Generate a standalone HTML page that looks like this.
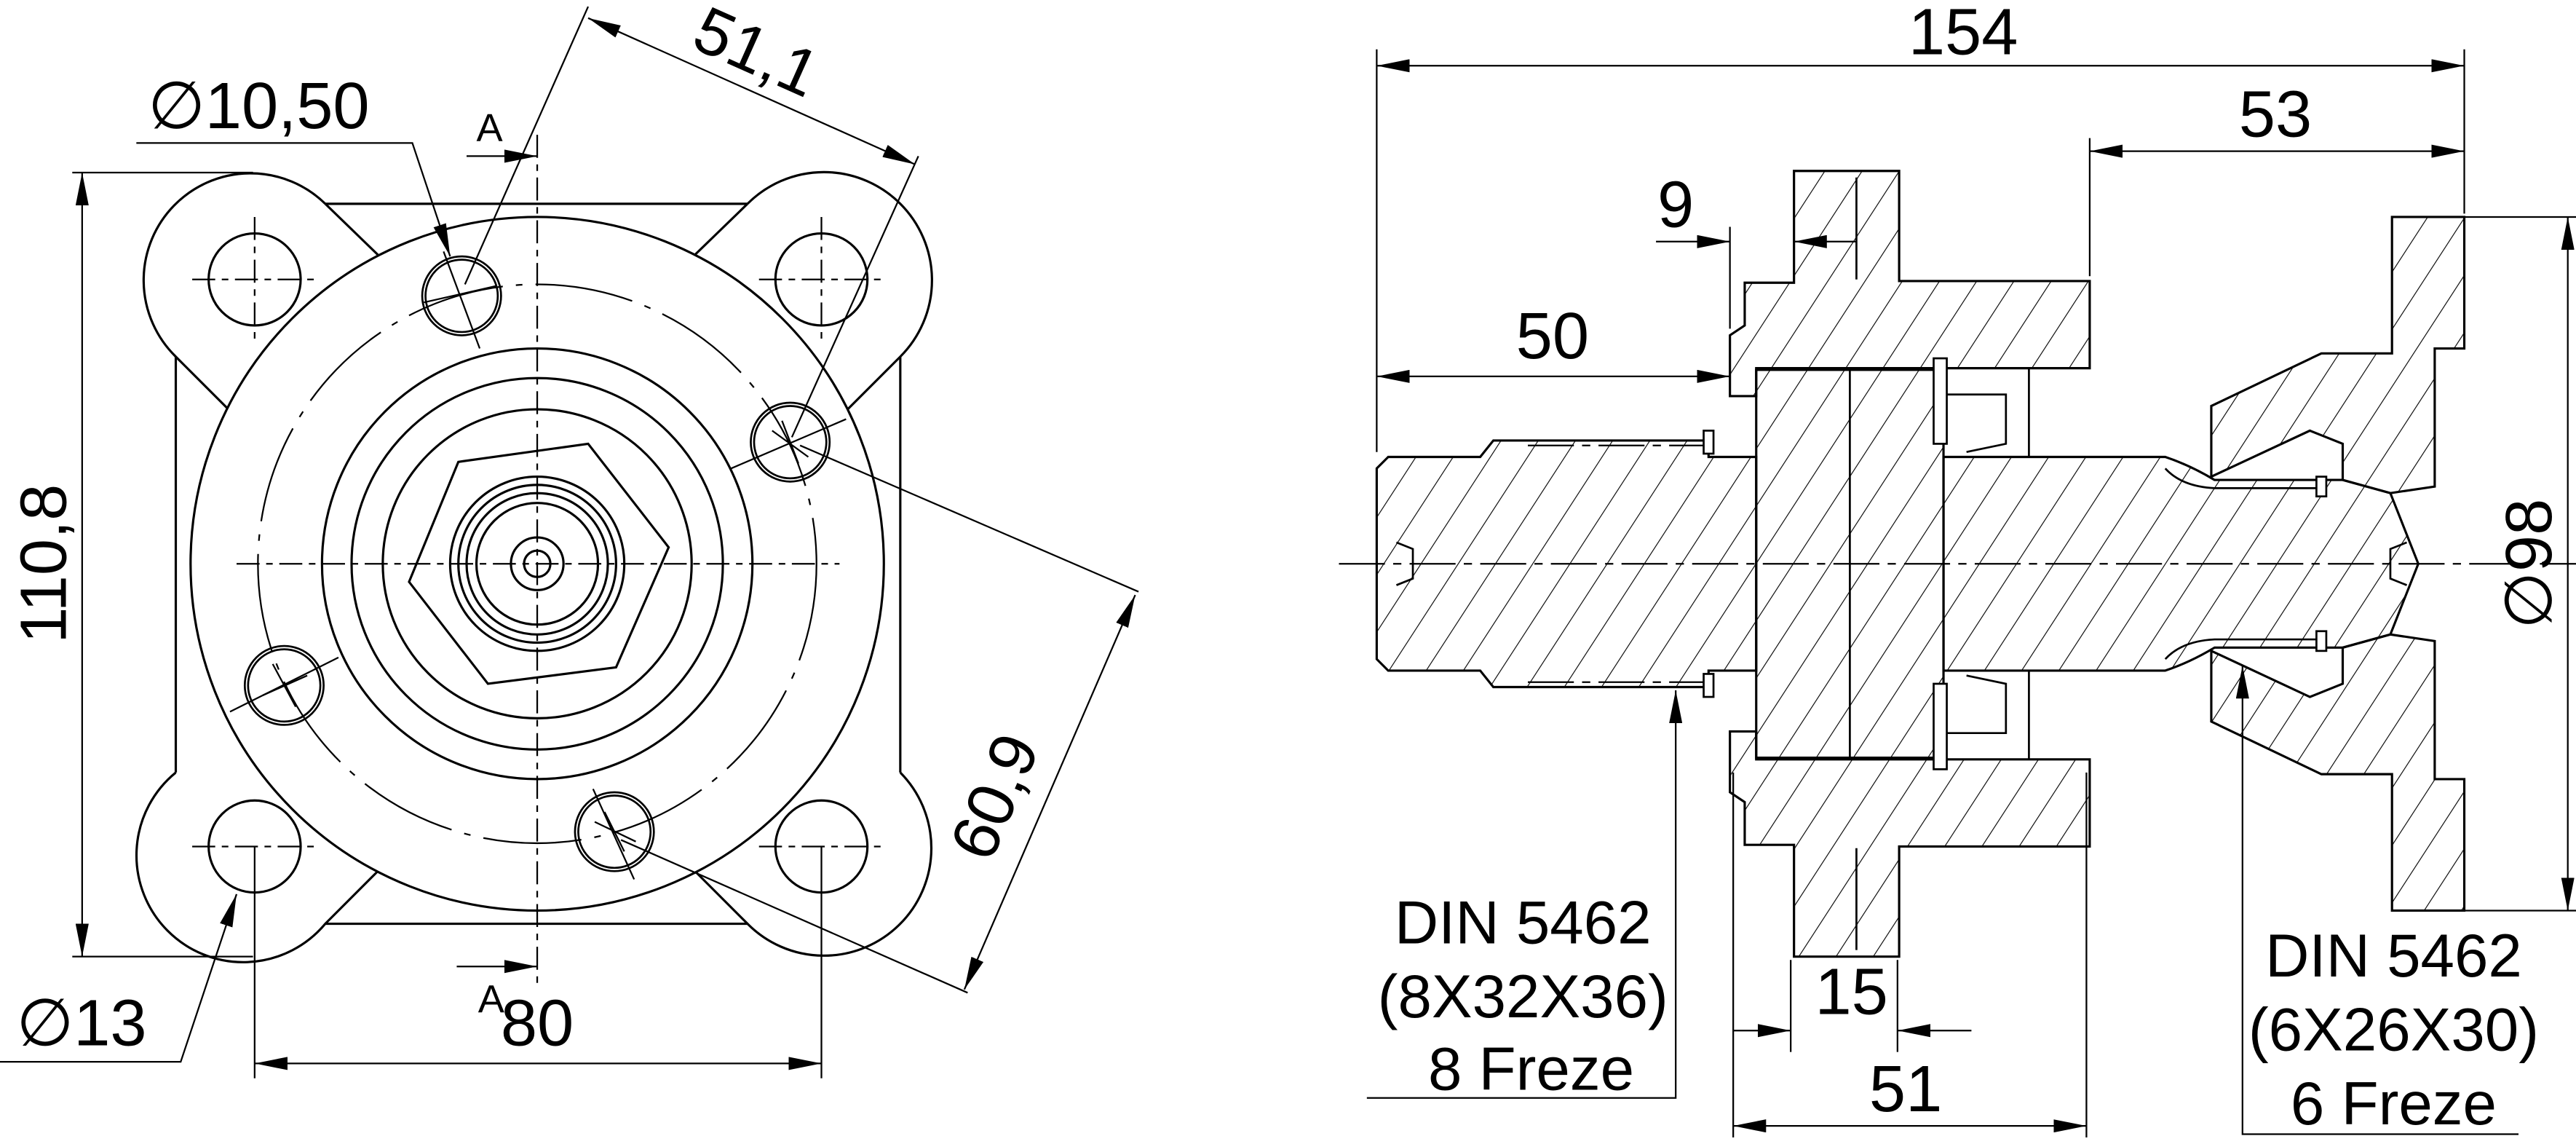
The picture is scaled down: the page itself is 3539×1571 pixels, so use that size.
<!DOCTYPE html>
<html><head><meta charset="utf-8"><style>
html,body{margin:0;padding:0;background:#fff;}
svg{display:block;}
text{font-family:"Liberation Sans",sans-serif;fill:#000;}
</style></head><body>
<svg width="3539" height="1571" viewBox="0 0 1568 696" preserveAspectRatio="none" xmlns="http://www.w3.org/2000/svg">
<defs>
<pattern id="h" patternUnits="userSpaceOnUse" width="19" height="19" patternTransform="rotate(33)">
<line x1="0" y1="0" x2="0" y2="19" stroke="#000" stroke-width="1"/>
</pattern>
<marker id="a" viewBox="0 0 20 8" refX="20" refY="4" markerWidth="20" markerHeight="8" markerUnits="userSpaceOnUse" orient="auto-start-reverse">
<path d="M0,0 L20,4 L0,8 Z" fill="#000"/>
</marker>
</defs>
<g fill="none" stroke="#000" stroke-width="1.4">
<!-- LEFT VIEW -->
<line x1="107" y1="217" x2="107" y2="470"/><line x1="548" y1="217" x2="548" y2="470"/>
<line x1="198" y1="124" x2="455" y2="124"/><line x1="198" y1="562" x2="455" y2="562"/>
<!-- ears -->
<path d="M198,124 A65,65 0 1 0 107,217 L140,250" />
<path d="M455,124 A65,65 0 1 1 548,217 L515,250"/>
<path d="M107,470 A65,65 0 1 0 198,562 L230,530"/>
<path d="M548,470 A65,65 0 1 1 455,562 L423,530"/>
<path d="M198,124 L230,155"/><path d="M455,124 L423,155"/>
<circle cx="327" cy="343" r="211" fill="#fff"/>
<circle cx="327" cy="343" r="170" stroke-width="1" stroke-dasharray="60,8,4,8"/>
<circle cx="327" cy="343" r="131"/>
<circle cx="327" cy="343" r="113"/>
<circle cx="327" cy="343" r="94"/>
<polygon points="279,281 358,270 407,333 375,406 297,416 249,354"/>
<circle cx="327" cy="343" r="53"/><circle cx="327" cy="343" r="48"/><circle cx="327" cy="343" r="43"/><circle cx="327" cy="343" r="37"/>
<circle cx="327" cy="343" r="16"/><circle cx="327" cy="343" r="8"/>
<g>
<circle cx="155" cy="170" r="28"/><circle cx="500" cy="170" r="28"/><circle cx="155" cy="515" r="28"/><circle cx="500" cy="515" r="28"/>
</g>
<g stroke-width="1" stroke-dasharray="14,4,4,4">
<line x1="117" y1="170" x2="193" y2="170"/><line x1="155" y1="132" x2="155" y2="208"/>
<line x1="462" y1="170" x2="538" y2="170"/><line x1="500" y1="132" x2="500" y2="208"/>
<line x1="117" y1="515" x2="193" y2="515"/><line x1="462" y1="515" x2="538" y2="515"/>
<line x1="327" y1="82" x2="327" y2="602"/><line x1="144" y1="343" x2="511" y2="343"/>
</g>
<g stroke-width="1.2">
<circle cx="281" cy="180" r="24"/><circle cx="281" cy="180" r="22"/>
<circle cx="481" cy="269" r="24"/><circle cx="481" cy="269" r="22"/>
<circle cx="173" cy="417" r="24"/><circle cx="173" cy="417" r="22"/>
<circle cx="374" cy="506" r="24"/><circle cx="374" cy="506" r="22"/>
</g>
<g stroke-width="1">
<line x1="258" y1="184" x2="302" y2="174"/><line x1="470" y1="262" x2="492" y2="278"/><line x1="476" y1="256" x2="486" y2="282"/>
<line x1="160" y1="423" x2="187" y2="411"/><line x1="166" y1="404" x2="180" y2="430"/>
<line x1="362" y1="500" x2="387" y2="512"/><line x1="368" y1="494" x2="380" y2="518"/>
<line x1="445" y1="285" x2="515" y2="255"/><line x1="140" y1="433" x2="206" y2="400"/>
<line x1="361" y1="480" x2="386" y2="535"/><line x1="270" y1="153" x2="292" y2="212"/>
</g>
<g stroke-width="1">
<line x1="44" y1="105" x2="154" y2="105"/><line x1="44" y1="582" x2="154" y2="582"/>
<line x1="50" y1="105" x2="50" y2="582" marker-start="url(#a)" marker-end="url(#a)"/>
<line x1="155" y1="515" x2="155" y2="656"/><line x1="500" y1="515" x2="500" y2="656"/>
<line x1="155" y1="647" x2="500" y2="647" marker-start="url(#a)" marker-end="url(#a)"/>
<line x1="284" y1="95" x2="327" y2="95" marker-end="url(#a)"/>
<line x1="278" y1="588" x2="327" y2="588" marker-end="url(#a)"/>
<line x1="358" y1="4" x2="283" y2="173"/><line x1="559" y1="95" x2="482" y2="266"/>
<line x1="358" y1="11" x2="557" y2="100" marker-start="url(#a)" marker-end="url(#a)"/>
<line x1="487" y1="271" x2="693" y2="360"/><line x1="378" y1="511" x2="589" y2="604"/>
<line x1="691" y1="362" x2="587" y2="602" marker-start="url(#a)" marker-end="url(#a)"/>
<polyline points="83,87 251,87 274,156" marker-end="url(#a)"/>
<polyline points="0,646 110,646 144,544" marker-end="url(#a)"/>
</g>

<!-- RIGHT VIEW -->
<g fill="url(#h)" stroke-width="1.4">
<polygon points="838,285 845,278 901,278 909,268 1040,268 1040,278 1069,278 1069,408 1040,408 1040,418 909,418 901,408 845,408 838,401"/>
<polygon points="1062,172 1092,172 1092,104 1156,104 1156,171 1272,171 1272,224 1069,224 1069,241 1053,241 1053,204 1062,198"/>
<polygon points="1062,514 1092,514 1092,582 1156,582 1156,515 1272,515 1272,462 1069,462 1069,445 1053,445 1053,482 1062,488"/>
<rect x="1069" y="225" width="114" height="236"/>
<path d="M1183,278 L1318,278 Q1333,283 1348,292 L1426,292 L1455,300 L1472,343 L1455,386 L1426,394 L1348,394 Q1333,403 1318,408 L1183,408 Z"/>
<polygon points="1456,132 1500,132 1500,212 1482,212 1482,296 1455,300 1426,292 1426,270 1406,262 1346,290 1346,247 1413,215 1456,215"/>
<polygon points="1456,554 1500,554 1500,474 1482,474 1482,390 1455,386 1426,394 1426,416 1406,424 1346,396 1346,439 1413,471 1456,471"/>
</g>
<g stroke-width="1.2">
<line x1="1126" y1="225" x2="1126" y2="461"/>
<line x1="1130" y1="108" x2="1130" y2="170"/><line x1="1130" y1="516" x2="1130" y2="578"/>
<rect x="1177" y="218" width="8" height="52" fill="#fff"/><rect x="1177" y="416" width="8" height="52" fill="#fff"/>
<rect x="1037" y="262" width="6" height="14" fill="#fff"/><rect x="1037" y="410" width="6" height="14" fill="#fff"/>
<polyline points="1185,240 1221,240 1221,270 1197,275"/><polyline points="1185,446 1221,446 1221,416 1197,411"/>
<line x1="1235" y1="224" x2="1235" y2="278"/><line x1="1235" y1="408" x2="1235" y2="462"/>
<path d="M1318,285 Q1328,296 1348,297 L1416,297"/><path d="M1318,401 Q1328,390 1348,389 L1416,389"/>
<rect x="1410" y="290" width="6" height="12" fill="#fff"/><rect x="1410" y="384" width="6" height="12" fill="#fff"/>
<path d="M850,330 L860,334 L860,352 L850,356"/><path d="M1465,330 L1455,334 L1455,352 L1465,356"/>
</g>
<g stroke-width="1" stroke-dasharray="28,5,5,5">
<line x1="815" y1="343" x2="1568" y2="343"/>
<line x1="930" y1="271" x2="1037" y2="271"/><line x1="930" y1="415" x2="1037" y2="415"/>
</g>
<g stroke-width="1">
<line x1="838" y1="30" x2="838" y2="275"/><line x1="1500" y1="30" x2="1500" y2="130"/>
<line x1="838" y1="40" x2="1500" y2="40" marker-start="url(#a)" marker-end="url(#a)"/>
<line x1="1272" y1="84" x2="1272" y2="168"/>
<line x1="1272" y1="92" x2="1500" y2="92" marker-start="url(#a)" marker-end="url(#a)"/>
<line x1="1053" y1="138" x2="1053" y2="200"/>
<line x1="1008" y1="147" x2="1053" y2="147" marker-end="url(#a)"/>
<line x1="1130" y1="147" x2="1092" y2="147" marker-end="url(#a)"/>
<line x1="838" y1="229" x2="1053" y2="229" marker-start="url(#a)" marker-end="url(#a)"/>
<line x1="1055" y1="470" x2="1055" y2="692"/><line x1="1270" y1="470" x2="1270" y2="692"/>
<line x1="1090" y1="584" x2="1090" y2="640"/><line x1="1155" y1="584" x2="1155" y2="640"/>
<line x1="1055" y1="627" x2="1090" y2="627" marker-end="url(#a)"/>
<line x1="1200" y1="627" x2="1155" y2="627" marker-end="url(#a)"/>
<line x1="1055" y1="685" x2="1270" y2="685" marker-start="url(#a)" marker-end="url(#a)"/>
<line x1="1500" y1="132" x2="1568" y2="132"/><line x1="1500" y1="554" x2="1568" y2="554"/>
<line x1="1563" y1="132" x2="1563" y2="554" marker-start="url(#a)" marker-end="url(#a)"/>
<polyline points="832,668 1020,668 1020,420" marker-end="url(#a)"/>
<polyline points="1533,690 1365,690 1365,405" marker-end="url(#a)"/>
</g>
</g>
<g font-size="40">
<text x="0" y="0" transform="translate(40,343) rotate(-90)" text-anchor="middle">110,8</text>
<text x="327" y="636" text-anchor="middle">80</text>
<text x="291" y="616" font-size="24">A</text>
<text x="290" y="86" font-size="24">A</text>
<text x="0" y="0" transform="translate(455,44) rotate(24)" text-anchor="middle">51,1</text>
<text x="0" y="0" transform="translate(618,490) rotate(-67)" text-anchor="middle">60,9</text>
<text x="90" y="78">∅10,50</text>
<text x="10" y="636">∅13</text>
<text x="1195" y="33" text-anchor="middle">154</text>
<text x="1385" y="83" text-anchor="middle">53</text>
<text x="1020" y="138" text-anchor="middle">9</text>
<text x="945" y="218" text-anchor="middle">50</text>
<text x="1127" y="617" text-anchor="middle">15</text>
<text x="1160" y="676" text-anchor="middle">51</text>
<text x="0" y="0" transform="translate(1553,343) rotate(-90)" text-anchor="middle">∅98</text>
<text x="927" y="574" text-anchor="middle" font-size="37">DIN 5462</text>
<text x="927" y="619" text-anchor="middle" font-size="37">(8X32X36)</text>
<text x="932" y="663" text-anchor="middle" font-size="37">8 Freze</text>
<text x="1457" y="594" text-anchor="middle" font-size="37">DIN 5462</text>
<text x="1457" y="639" text-anchor="middle" font-size="37">(6X26X30)</text>
<text x="1457" y="684" text-anchor="middle" font-size="37">6 Freze</text>
</g>
</svg>
</body></html>
